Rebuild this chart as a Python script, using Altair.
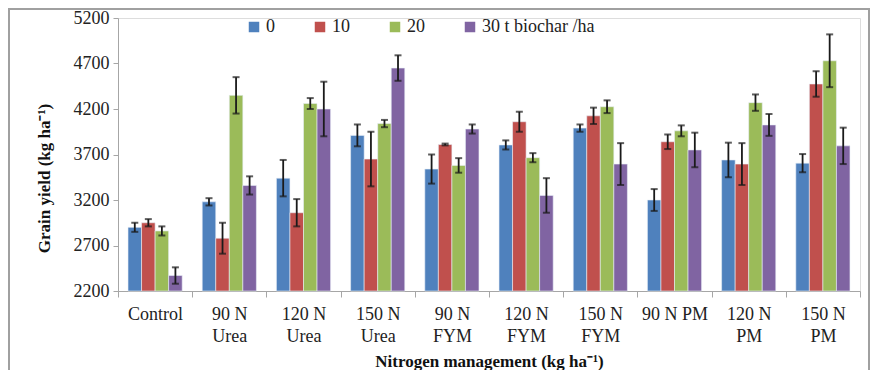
import altair as alt
import pandas as pd

categories = ["Control", "90 N|Urea", "120 N|Urea", "150 N|Urea", "90 N|FYM",
              "120 N|FYM", "150 N|FYM", "90 N PM", "120 N|PM", "150 N|PM"]
series = ["0", "10", "20", "30 t biochar /ha"]
colors = ["#4F81BD", "#C0504D", "#9BBB59", "#8064A2"]

mean_0 = [2900, 3180, 3440, 3910, 3540, 3805, 3990, 3200, 3640, 3605]
mean_10 = [2950, 2780, 3060, 3650, 3810, 4060, 4125, 3840, 3595, 4475]
mean_20 = [2860, 4350, 4260, 4040, 3580, 3665, 4225, 3960, 4270, 4730]
mean_30 = [2370, 3360, 4200, 4650, 3980, 3250, 3595, 3750, 4025, 3795]

err_0 = [50, 40, 200, 120, 160, 50, 40, 120, 190, 100]
err_10 = [40, 170, 150, 300, 10, 110, 90, 80, 230, 140]
err_20 = [50, 200, 60, 40, 80, 50, 70, 60, 90, 290]
err_30 = [90, 100, 300, 140, 50, 190, 230, 190, 120, 200]

means = [mean_0, mean_10, mean_20, mean_30]
errs = [err_0, err_10, err_20, err_30]

rows = []
for ci, c in enumerate(categories):
    for si, s in enumerate(series):
        m = means[si][ci]
        e = errs[si][ci]
        rows.append({"cat": c, "series": s, "value": m, "base": 2200,
                     "lo": m - e, "hi": m + e})
df = pd.DataFrame(rows)

FONT = "Liberation Serif"

x_enc = alt.X("cat:N", sort=categories,
              scale=alt.Scale(paddingInner=0, paddingOuter=0),
              axis=alt.Axis(title="Nitrogen management (kg ha⁻¹)",
                            labelExpr="split(datum.label, '|')",
                            labelAngle=0, tickBand="extent", tickSize=6,
                            tickColor="#A6A6A6", domainColor="#A6A6A6",
                            labelFont=FONT, labelFontSize=18, labelColor="#222222",
                            labelPadding=8, labelLineHeight=22,
                            titleFont=FONT, titleFontSize=17, titleFontWeight="bold",
                            titleColor="#111111", titlePadding=8))
xo_enc = alt.XOffset("series:N", sort=series,
                     scale=alt.Scale(paddingInner=0, paddingOuter=0.74))

bars = alt.Chart(df).mark_bar(stroke="#E8EEF6", strokeWidth=0.6).encode(
    x=x_enc,
    xOffset=xo_enc,
    y=alt.Y("value:Q",
            scale=alt.Scale(domain=[2200, 5200], zero=False),
            axis=alt.Axis(title="Grain yield (kg ha⁻¹)", values=[2200, 2700, 3200, 3700, 4200, 4700, 5200],
                          format="d",
                          grid=False, tickSize=5, tickColor="#A6A6A6", domainColor="#A6A6A6",
                          labelFont=FONT, labelFontSize=18, labelColor="#222222", labelPadding=4,
                          titleFont=FONT, titleFontSize=17, titleFontWeight="bold",
                          titleColor="#111111", titlePadding=20, titleY=160)),
    y2=alt.Y2("base:Q"),
    color=alt.Color("series:N", sort=series,
                    scale=alt.Scale(domain=series, range=colors),
                    legend=alt.Legend(title=None, orient="none", legendX=127, legendY=0,
                                      direction="horizontal", symbolType="square",
                                      symbolSize=110, symbolStrokeWidth=0,
                                      labelFont=FONT, labelFontSize=18, labelColor="#222222",
                                      columnPadding=36, labelOffset=3)),
)

rules = alt.Chart(df).mark_rule(color="#1a1a1a", strokeWidth=1.8).encode(
    x=alt.X("cat:N", sort=categories), xOffset=xo_enc,
    y=alt.Y("lo:Q"), y2="hi:Q")

cap_lo = alt.Chart(df).mark_tick(color="#1a1a1a", thickness=2, size=7).encode(
    x=alt.X("cat:N", sort=categories), xOffset=xo_enc, y=alt.Y("lo:Q"))
cap_hi = alt.Chart(df).mark_tick(color="#1a1a1a", thickness=2, size=7).encode(
    x=alt.X("cat:N", sort=categories), xOffset=xo_enc, y=alt.Y("hi:Q"))

frame = alt.Chart(pd.DataFrame({"a": [0]})).mark_rect(
    fill=None, stroke="#A0A0A0", strokeWidth=2).encode(
    x=alt.value(-109), x2=alt.value(751), y=alt.value(-9), y2=alt.value(400))

chart = alt.layer(bars, rules, cap_lo, cap_hi, frame).properties(
    width=742, height=273,
    autosize=alt.AutoSizeParams(type="none"),
    padding={"left": 110, "top": 10, "right": 10, "bottom": 79},
).configure_view(stroke=None).configure(background="white", font=FONT)

chart.save("out.html", embed_options={"renderer": "svg", "actions": False})
